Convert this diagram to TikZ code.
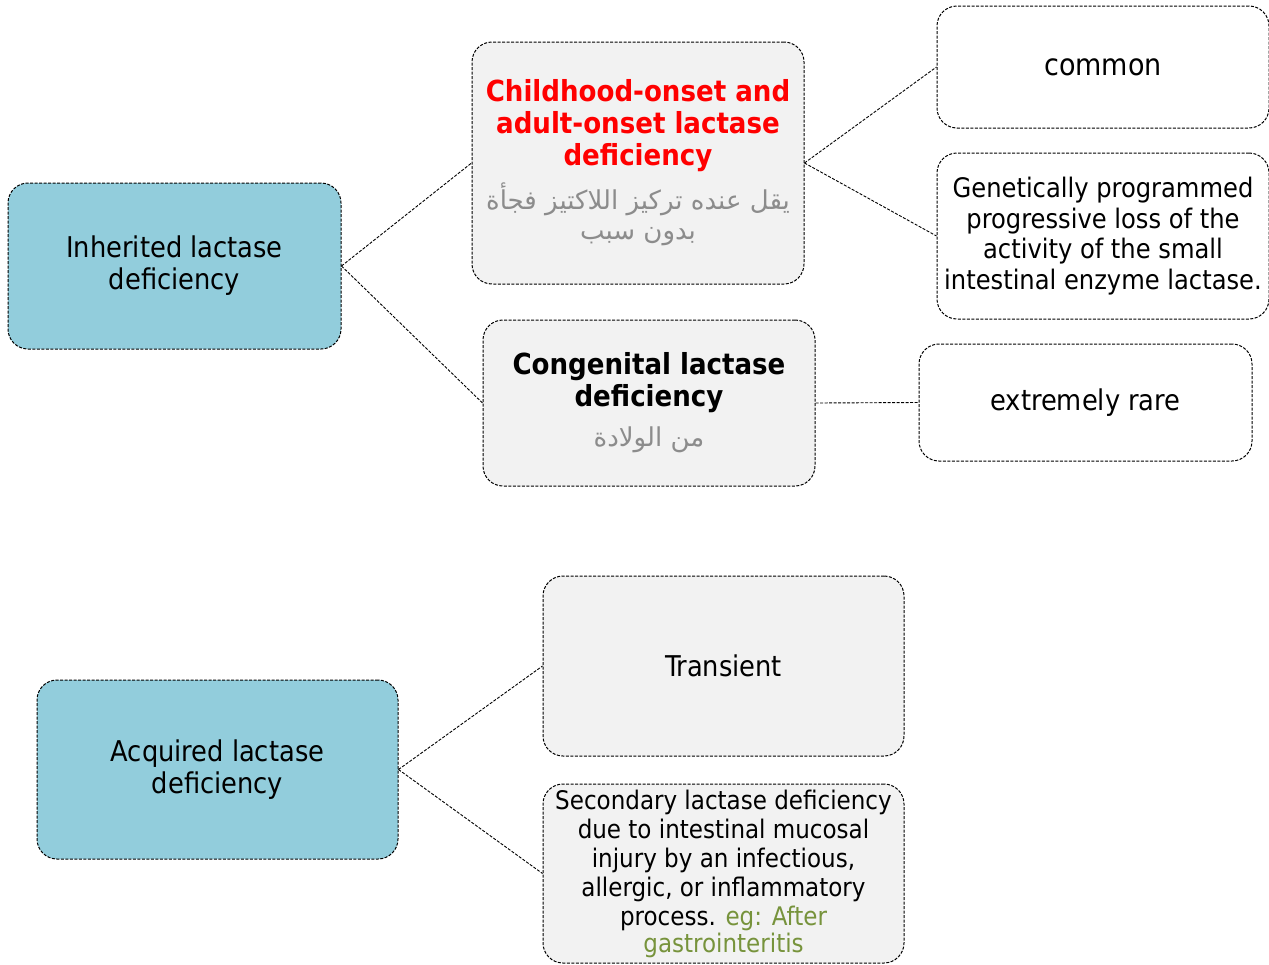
\documentclass[tikz,border=0pt]{standalone}
\usepackage{fontspec}
\setmainfont{DejaVu Sans Condensed}
\newfontfamily\arabicfont[Script=Arabic]{DejaVu Sans}
\TeXXeTstate=1
\usetikzlibrary{positioning}
\definecolor{boxblue}{RGB}{146,205,220}
\definecolor{boxgray}{RGB}{242,242,242}
\definecolor{argray}{RGB}{140,140,140}
\definecolor{egreen}{RGB}{119,147,60}
\newcommand{\artext}[1]{\textcolor{argray}{\fontsize{26}{30}\arabicfont\beginR #1\endR}}

\begin{document}
\begin{tikzpicture}[x=1pt,y=-1pt,
      box/.style={rectangle, rounded corners=20pt, draw=black, dash pattern=on 3pt off 1.5pt, line width=1pt, align=center, inner sep=2pt, font=\fontsize{28.6}{32}\selectfont},
      mainbox/.style={box, fill=boxblue},
      subbox/.style={box, fill=boxgray},
      leafbox/.style={box, fill=white},
      verb/.style={dash pattern=on 3pt off 1.5pt, line width=0.9pt}]

\useasboundingbox (0,0) rectangle (1269,964);

\node[mainbox, minimum width=333pt, minimum height=166pt] (inh) at (174.5,266) {Inherited lactase\\deficiency};
\node[subbox, minimum width=332pt, minimum height=242pt, font=\fontsize{29}{32}\selectfont] (child) at (638,163) {\textcolor{red}{\textbf{Childhood-onset and}}\\\textcolor{red}{\textbf{adult-onset lactase}}\\\textcolor{red}{\textbf{deficiency}}\\[10pt]\artext{يقل عنده تركيز اللاكتيز فجأة}\\[-2pt]\artext{بدون سبب}};
\node[subbox, minimum width=332pt, minimum height=166pt, font=\fontsize{29}{32}\selectfont] (cong) at (649,403) {\textbf{Congenital lactase}\\\textbf{deficiency}\\[8pt]\artext{من الولادة}};
\node[leafbox, minimum width=332pt, minimum height=122pt, font=\fontsize{30}{32}\selectfont] (common) at (1103,67) {common};
\node[leafbox, minimum width=332pt, minimum height=166pt, font=\fontsize{26.9}{30.5}\selectfont] (genet) at (1103,236) {Genetically programmed\\progressive loss of the\\activity of the small\\intestinal enzyme lactase.};
\node[leafbox, minimum width=333pt, minimum height=117pt] (rare) at (1085.5,402.5) {extremely rare};

\node[mainbox, minimum width=361pt, minimum height=179pt] (acq) at (217.5,769.5) {Acquired lactase\\deficiency};
\node[subbox, minimum width=361pt, minimum height=180pt] (trans) at (723.5,666) {Transient};
\node[subbox, minimum width=361pt, minimum height=179pt, font=\fontsize{25.6}{29}\selectfont] (second) at (723.5,873.5) {Secondary lactase deficiency\\due to intestinal mucosal\\injury by an infectious,\\allergic, or inflammatory\\process. \textcolor{egreen}{eg: After}\\[-2pt]\textcolor{egreen}{gastrointeritis}};

\draw[verb] (inh.east) edge (child.west);
\draw[verb] (inh.east) edge (cong.west);
\draw[verb] (child.east) edge (common.west);
\draw[verb] (child.east) edge (genet.west);
\draw[verb] (cong.east) edge (rare.west);
\draw[verb] (acq.east) edge (trans.west);
\draw[verb] (acq.east) edge (second.west);

\end{tikzpicture}
\end{document}
